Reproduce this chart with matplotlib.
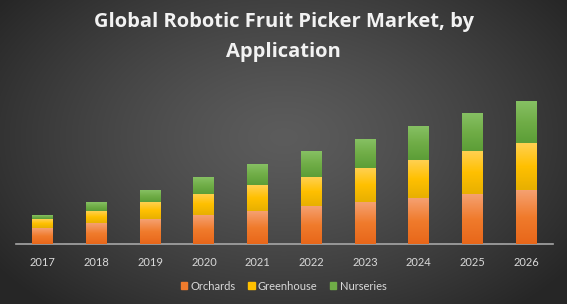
import numpy as np
import matplotlib
matplotlib.use("Agg")
import matplotlib.pyplot as plt
from matplotlib.patches import Patch
from matplotlib.colors import LinearSegmentedColormap

years = ["2017", "2018", "2019", "2020", "2021", "2022", "2023", "2024", "2025", "2026"]
orchards = [16, 21, 25, 29, 33, 38, 42, 46, 50, 54]
greenhouse = [9, 12, 17, 21.5, 26, 29, 34, 38, 43, 47]
nurseries = [4, 9, 12, 16.5, 21, 26, 29, 34, 38, 42]

series = [
    ("Orchards", orchards, "#F07B2C", "#F5A070", "#E8671A"),
    ("Greenhouse", greenhouse, "#FFC000", "#FFD050", "#E8B000"),
    ("Nurseries", nurseries, "#70AD47", "#86C063", "#5C9E37"),
]

plt.rcParams['font.family'] = ['Lato', 'DejaVu Sans']

W, H = 567, 304
fig = plt.figure(figsize=(W / 100, H / 100), dpi=100)

# radial background
bg = fig.add_axes([0, 0, 1, 1])
yy, xx = np.mgrid[0:H, 0:W]
r = np.sqrt(((xx - W * 0.5) / (W * 0.62)) ** 2 + ((yy - H * 0.45) / (H * 0.75)) ** 2)
r = np.clip(r, 0, 1)
shade = 0.36 - 0.21 * r ** 1.3
bg.imshow(np.dstack([shade] * 3), aspect="auto", extent=[0, 1, 0, 1])
bg.axis("off")

ax = fig.add_axes([16 / W, (H - 244.3) / H, (553 - 16) / W, 155 / H])
ax.patch.set_alpha(0)

x = np.arange(len(years))
bottom = np.zeros(len(years))
for name, vals, col, top_c, bot_c in series:
    vals = np.array(vals, dtype=float)
    bars = ax.bar(x, vals, 0.39, bottom=bottom, color=col, label=name, zorder=2)
    cmap = LinearSegmentedColormap.from_list(name, [bot_c, col, top_c])
    grad = np.linspace(1, 0, 50).reshape(-1, 1)
    for b in bars:
        x0, y0, w, h = b.get_x(), b.get_y(), b.get_width(), b.get_height()
        ax.imshow(grad, cmap=cmap, aspect="auto", extent=[x0, x0 + w, y0, y0 + h], zorder=3)
    bottom += vals

ax.set_xlim(-0.5, 9.5)
ax.set_ylim(0, 155)
for s in ["top", "right", "left"]:
    ax.spines[s].set_visible(False)
ax.spines["bottom"].set_color("#A6A6A6")
ax.spines["bottom"].set_linewidth(1.2)
ax.set_yticks([])
ax.set_xticks(x)
ax.set_xticklabels(years, color="#D9D9D9", fontsize=8)
ax.tick_params(axis="x", length=0, pad=9)

title_kw = dict(ha="center", va="baseline", color="#F2F2F2", fontsize=14.5,
                fontweight="bold", family=["Open Sans", "DejaVu Sans"])
fig.text(0.5, (H - 27.5) / H, "Global Robotic Fruit Picker Market, by", **title_kw)
fig.text(0.5, (H - 57.5) / H, "Application", **title_kw)

handles = [Patch(color=c, label=n) for n, _, c, _, _ in series]
fig.legend(handles=handles, loc="center", bbox_to_anchor=(0.5, (H - 286) / H), ncol=3, frameon=False,
           fontsize=8, labelcolor="#D9D9D9", handlelength=0.6, handleheight=0.6, handletextpad=0.3,
           columnspacing=1.1)

fig.savefig("out.png", dpi=100)
